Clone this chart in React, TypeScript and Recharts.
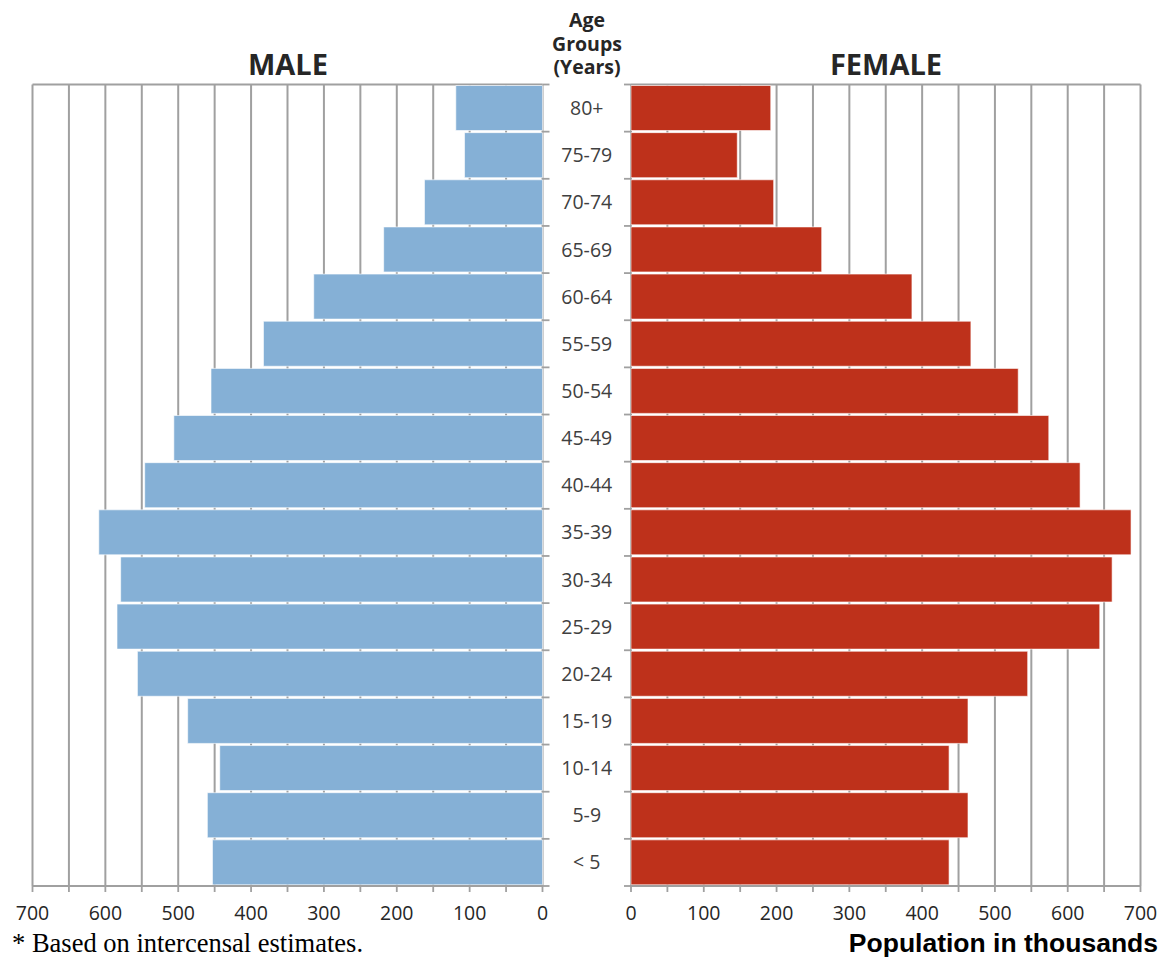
import React from "react";
import { BarChart, Bar, XAxis, YAxis, CartesianGrid } from "recharts";

const ageGroups = ["80+", "75-79", "70-74", "65-69", "60-64", "55-59", "50-54", "45-49", "40-44", "35-39", "30-34", "25-29", "20-24", "15-19", "10-14", "5-9", "< 5"];
const maleValues = [119, 107, 162, 218, 314, 383, 455, 506, 546, 609, 579, 584, 556, 487, 443, 460, 453];
const femaleValues = [192, 146, 196, 262, 386, 467, 532, 574, 617, 687, 661, 644, 545, 463, 437, 463, 437];
const xTicks = [0, 50, 100, 150, 200, 250, 300, 350, 400, 450, 500, 550, 600, 650, 700];
const xLabelStep = 100;

const data = ageGroups.map((g, i) => ({ group: g, male: maleValues[i], female: femaleValues[i] }));

const W = 1162;
const H = 959;
const PLOT_TOP = 84.5;
const PLOT_BOTTOM = 886;
const L_LEFT = 32.5;
const L_RIGHT = 542.5;
const R_LEFT = 631;
const R_RIGHT = 1140.5;
const X_AXIS_H = 50;
const LEFT_W = 640;
const BAND = (PLOT_BOTTOM - PLOT_TOP) / ageGroups.length;
const GRID = "#a0a0a0";
const MALE = "#85b0d6";
const FEMALE = "#be311b";
const FONT = "'Open Sans', 'Noto Sans', sans-serif";

const XTick = (props: any) => {
  const { x, y, payload } = props;
  if (payload.value % xLabelStep !== 0) return <g />;
  return (
    <text x={x} y={y} dy="0.71em" textAnchor="middle" fontFamily={FONT} fontSize={19.5} fill="#262626">
      {payload.value}
    </text>
  );
};

const CatTick = (props: any) => {
  const { y, payload, index } = props;
  const mid = (L_RIGHT + R_LEFT) / 2;
  const bounds = [y - BAND / 2];
  if (index === ageGroups.length - 1) bounds.push(y + BAND / 2);
  return (
    <g>
      {bounds.map((b, i) => (
        <g key={i}>
          <line x1={L_RIGHT} x2={L_RIGHT + 7} y1={b} y2={b} stroke={GRID} strokeWidth={1.8} />
          <line x1={R_LEFT - 7} x2={R_LEFT} y1={b} y2={b} stroke={GRID} strokeWidth={1.8} />
        </g>
      ))}
      <text x={mid} y={y} dy="0.36em" textAnchor="middle" fontFamily={FONT} fontSize={19.5} fill="#404040">
        {payload.value}
      </text>
    </g>
  );
};

const topLine = (p: any) => [p.offset.top];

export default function App() {
  const bottomMargin = H - PLOT_BOTTOM - X_AXIS_H;
  return (
    <div style={{ position: "absolute", left: 0, top: 0, width: W, height: H, background: "#fff" }}>
      <div style={{ position: "absolute", left: 0, top: 0 }}>
        <BarChart
          width={LEFT_W}
          height={H}
          data={data}
          layout="vertical"
          barCategoryGap={1}
          margin={{ top: PLOT_TOP, left: L_LEFT, right: 0, bottom: bottomMargin }}
        >
          <CartesianGrid
            stroke={GRID}
            strokeWidth={2}
            vertical={true}
            horizontal={true}
            horizontalCoordinatesGenerator={topLine}
          />
          <XAxis
            type="number"
            dataKey="male"
            domain={[0, 700]}
            ticks={xTicks}
            interval={0}
            reversed
            height={X_AXIS_H}
            tickSize={6}
            tickMargin={14}
            axisLine={{ stroke: GRID, strokeWidth: 2 }}
            tickLine={{ stroke: GRID, strokeWidth: 1.8 }}
            tick={<XTick />}
          />
          <YAxis
            type="category"
            dataKey="group"
            orientation="right"
            width={LEFT_W - L_RIGHT}
            axisLine={false}
            tickLine={false}
            interval={0}
            tick={<CatTick />}
          />
          <Bar dataKey="male" fill={MALE} stroke="#ffffff" strokeOpacity={0.6} strokeWidth={1} isAnimationActive={false} />
        </BarChart>
      </div>
      <div style={{ position: "absolute", left: 0, top: 0 }}>
        <BarChart
          width={W}
          height={H}
          data={data}
          layout="vertical"
          barCategoryGap={1}
          margin={{ top: PLOT_TOP, left: R_LEFT, right: W - R_RIGHT, bottom: bottomMargin }}
        >
          <CartesianGrid
            stroke={GRID}
            strokeWidth={2}
            vertical={true}
            horizontal={true}
            horizontalCoordinatesGenerator={topLine}
          />
          <XAxis
            type="number"
            dataKey="female"
            domain={[0, 700]}
            ticks={xTicks}
            interval={0}
            height={X_AXIS_H}
            tickSize={6}
            tickMargin={14}
            axisLine={{ stroke: GRID, strokeWidth: 2 }}
            tickLine={{ stroke: GRID, strokeWidth: 1.8 }}
            tick={<XTick />}
          />
          <YAxis type="category" dataKey="group" hide />
          <Bar dataKey="female" fill={FEMALE} stroke="#ffffff" strokeOpacity={0.6} strokeWidth={1} isAnimationActive={false} />
        </BarChart>
      </div>
      <svg width={W} height={H} style={{ position: "absolute", left: 0, top: 0, pointerEvents: "none" }}>
        <text x={288} y={75} textAnchor="middle" fontFamily={FONT} fontWeight="bold" fontSize={29} fill="#262626">MALE</text>
        <text x={886} y={75} textAnchor="middle" fontFamily={FONT} fontWeight="bold" fontSize={29} fill="#262626">FEMALE</text>
        <text textAnchor="middle" fontFamily={FONT} fontWeight="bold" fontSize={19.5} fill="#262626">
          <tspan x={587} y={27}>Age</tspan>
          <tspan x={587} y={50.5}>Groups</tspan>
          <tspan x={587} y={74}>(Years)</tspan>
        </text>
        <text x={12} y={952} fontFamily="'Liberation Serif', 'Times New Roman', serif" fontSize={26.5} fill="#000">* Based on intercensal estimates.</text>
        <text x={1158} y={952} textAnchor="end" fontFamily="'Liberation Sans', Arial, sans-serif" fontWeight="bold" fontSize={26.5} fill="#000">Population in thousands</text>
      </svg>
    </div>
  );
}
